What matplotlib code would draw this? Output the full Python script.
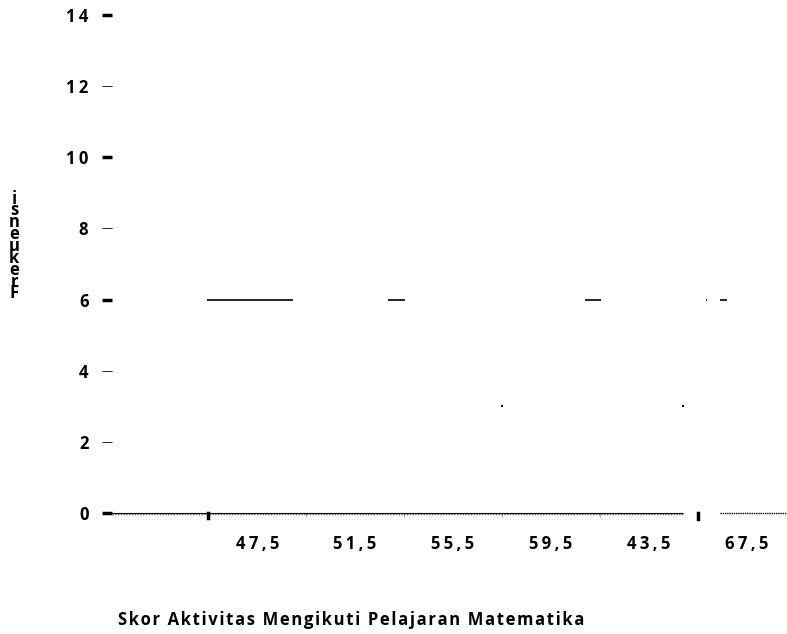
import numpy as np
import matplotlib.pyplot as plt

# data kelas (batas kelas) dan frekuensi
batas_kelas = [43.5, 47.5, 51.5, 55.5, 59.5, 63.5, 67.5, 71.5]
label_kelas = ['47,5', '51,5', '55,5', '59,5', '43,5', '67,5']
frekuensi = [0, 6, 6, 3, 6, 3, 6]

# potongan tepi atas batang yang masih terlihat
potongan_awal = [47.44, 54.86, 62.90, 67.85, 68.41]
potongan_akhir = [50.95, 55.54, 63.54, 67.90, 68.69]
potongan_frek = [6, 6, 6, 6, 6]
titik_x = [59.49, 66.89]
titik_y = [3, 3]

sumbu_y = [0, 2, 4, 6, 8, 10, 12, 14]
tebal_y = [0, 6, 10, 14]

judul_x = 'Skor Aktivitas Mengikuti Pelajaran Matematika'
judul_y = 'Frekuensi'


def renggang(teks, sela='\u200a'):
    # jarak antar huruf lebar seperti gambar asli
    return sela.join(teks)


plt.rcParams['font.family'] = ['Open Sans', 'DejaVu Sans']

fig = plt.figure(figsize=(7.87, 6.34), dpi=100)
ax = fig.add_axes([112 / 787, 1 - 513 / 634, 1 - 112 / 787, (513 - 15) / 634])

# batang histogram (isi putih, tidak terlihat)
lebar = np.diff(batas_kelas)
ax.bar(batas_kelas[:-1], frekuensi, width=lebar, align='edge', color='white', edgecolor='none')
ax.hlines(potongan_frek, potongan_awal, potongan_akhir, colors='black', lw=1.2)
ax.scatter(titik_x, titik_y, s=3, color='black', marker='s', linewidths=0)

ax.set_xlim(43.565, 71.15)
ax.set_ylim(0, 14)
for s in ax.spines.values():
    s.set_visible(False)

# garis sumbu x
ax.hlines(0, 43.565, 66.9, colors='black', lw=0.8, clip_on=False)
ax.hlines(-0.04, 43.565, 66.9, colors='#555555', lw=1.0, linestyles=(0, (1, 1)), clip_on=False)
ax.hlines(0, 68.4, 71.15, colors='black', lw=1.0, linestyles=(0, (1, 0.6)), clip_on=False)
ax.plot([47.5, 47.5], [0, -0.15], color='black', lw=2.5, clip_on=False)
ax.plot([67.5, 67.5], [0, -0.18], color='black', lw=2.5, clip_on=False)

# sumbu y
ax.set_yticks(sumbu_y)
ax.set_yticklabels([renggang(str(v), '\u2009') for v in sumbu_y], fontsize=12, fontweight='bold')
ax.tick_params(axis='y', direction='out', length=7, pad=10)
for t, v in zip(ax.yaxis.get_major_ticks(), sumbu_y):
    if v in tebal_y:
        t.tick1line.set_markeredgewidth(2.5)
    else:
        t.tick1line.set_markeredgewidth(0.6)
        t.tick1line.set_color('#888888')

# sumbu x: tick di batas kelas, label di tengah kelas
ax.set_xticks(batas_kelas[2:-2])
ax.set_xticklabels([])
ax.tick_params(axis='x', which='major', direction='out', length=3, width=0.6, color='#999999')
ax.set_xticks([b + 2 for b in batas_kelas[1:-1]], minor=True)
ax.set_xticklabels([renggang(l, '\u2009') for l in label_kelas], minor=True,
                   fontsize=12, fontweight='bold')
ax.tick_params(axis='x', which='minor', length=0, pad=16)

fig.text(118 / 787, 1 - 620 / 634, renggang(judul_x),
         ha='left', va='center', fontsize=12, fontweight='bold')
fig.text(14 / 787, 1 - 246 / 634, '\n'.join(judul_y[::-1]),
         ha='center', va='center', fontsize=12, fontweight='bold', linespacing=0.56)

fig.savefig('out.png', dpi=100)
